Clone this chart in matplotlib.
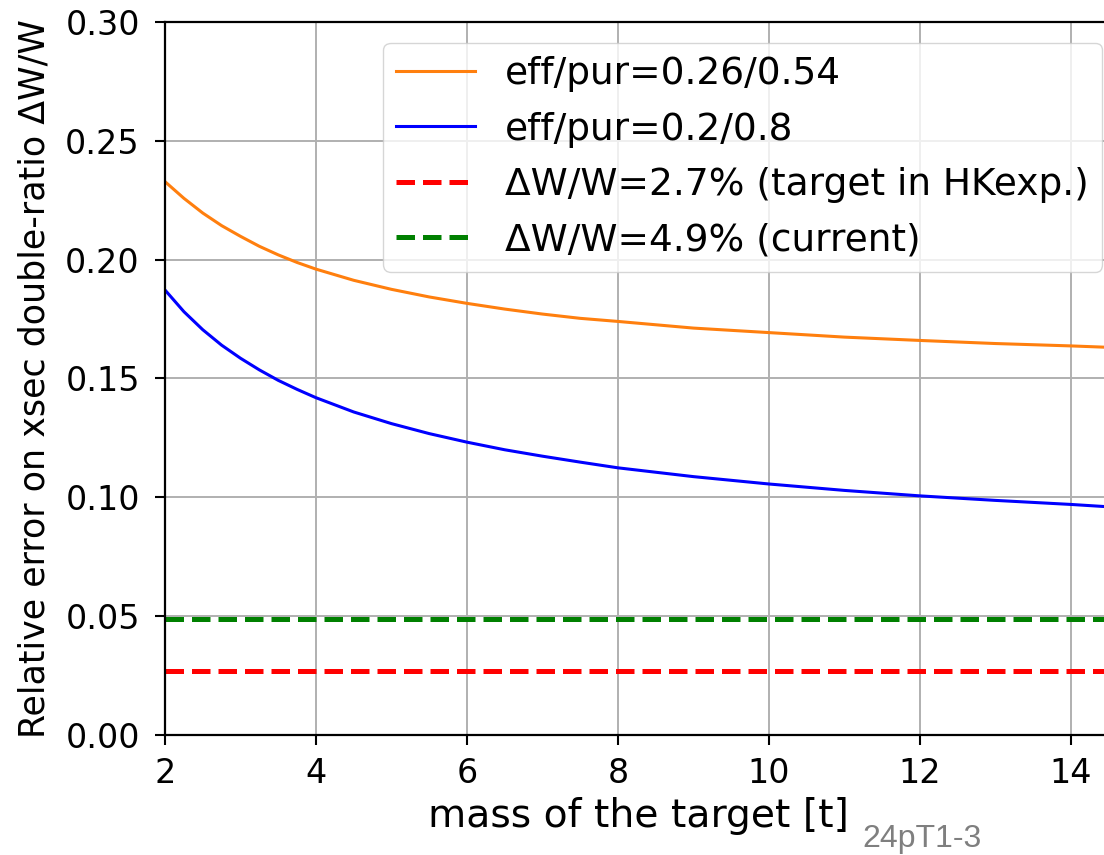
import numpy as np
import matplotlib
matplotlib.use("Agg")
import matplotlib.pyplot as plt
from matplotlib.ticker import FormatStrFormatter

# Target mass [t]
masa = [2, 2.25, 2.5, 2.75, 3, 3.25, 3.5, 3.75, 4, 4.5, 5, 5.5, 6, 6.5, 7, 7.5,
        8, 9, 10, 11, 12, 13, 14, 14.5]

# Relative error on the double ratio for each eff/pur working point
err_026_054 = [0.2328, 0.2258, 0.2196, 0.2143, 0.2098, 0.2056, 0.2020, 0.1988,
               0.1960, 0.1913, 0.1875, 0.1843, 0.1816, 0.1792, 0.1771, 0.1753,
               0.1740, 0.1712, 0.1693, 0.1674, 0.1660, 0.1647, 0.1637, 0.1631]
err_02_08 = [0.1872, 0.1781, 0.1705, 0.1640, 0.1585, 0.1536, 0.1492, 0.1454,
             0.1419, 0.1359, 0.1310, 0.1268, 0.1232, 0.1200, 0.1173, 0.1148,
             0.1124, 0.1087, 0.1056, 0.1029, 0.1006, 0.0987, 0.0970, 0.0960]

# Reference levels of dW/W
dw_objetivo = 0.027
dw_actual = 0.049

fig = plt.figure(figsize=(11.04, 8.55), dpi=100)
ax = fig.add_axes([0.1495, 0.1404, 0.858, 0.8339])

ax.plot(masa, err_026_054, color="tab:orange", lw=2.2, label="eff/pur=0.26/0.54")
ax.plot(masa, err_02_08, color="blue", lw=2.2, label="eff/pur=0.2/0.8")
ax.axhline(dw_objetivo, color="red", ls="--", lw=3.6, label="ΔW/W=2.7% (target in HKexp.)")
ax.axhline(dw_actual, color="green", ls="--", lw=3.6, label="ΔW/W=4.9% (current)")

ax.set_xlim(2, 14.55)
ax.set_ylim(0, 0.30)
ax.set_xticks([2, 4, 6, 8, 10, 12, 14])
ax.set_yticks(np.arange(0, 0.31, 0.05))
ax.yaxis.set_major_formatter(FormatStrFormatter("%.2f"))
ax.grid(True, color="#b0b0b0", lw=1.4)
ax.tick_params(labelsize=24, length=7.2, width=1.5)
ax.tick_params(axis="x", pad=8.5)
ax.tick_params(axis="y", pad=11)
for s in ax.spines.values():
    s.set_linewidth(1.6)

ax.set_xlabel("mass of the target [t]", fontsize=28.3, labelpad=5)
ax.set_ylabel("Relative error on xsec double-ratio ΔW/W", fontsize=25.1, labelpad=10)

ax.legend(loc="upper right", bbox_to_anchor=(1102 / 1104, (855 - 43) / 855),
          bbox_transform=fig.transFigure, borderaxespad=0, fontsize=27,
          labelspacing=0.52, borderpad=0.35, handlelength=2.1)

fig.text(862 / 1104, 1 / 855, "24pT1-3", fontsize=23, color="#7f7f7f",
         family="Liberation Sans", ha="left", va="bottom")

plt.savefig("out.png", dpi=100)
